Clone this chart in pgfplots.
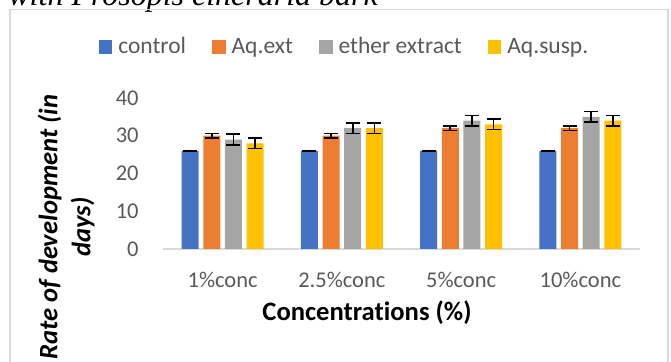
\documentclass[border=0pt]{standalone}
\usepackage{fontspec}
\setmainfont{Carlito}[Ligatures=NoCommon]
\newfontfamily\serifit{Liberation Serif}
\usepackage{pgfplots}
\usepackage{pgfplotstable}
\pgfplotsset{compat=1.18}
\definecolor{cblue}{HTML}{4472C4}
\definecolor{corange}{HTML}{ED7D31}
\definecolor{cgray}{HTML}{A5A5A5}
\definecolor{cyellow}{HTML}{FFC000}
\definecolor{tickgray}{HTML}{595959}
\definecolor{framegray}{HTML}{D9D9D9}
\pgfplotstableread{
x y e
0 26 0.03
1 26 0.03
2 26 0.03
3 26 0.03
}\tcontrol
\pgfplotstableread{
x y e
0 30 0.6
1 30 0.6
2 32 0.6
3 32 0.6
}\taqext
\pgfplotstableread{
x y e
0 29 1.4
1 32 1.4
2 34 1.4
3 35 1.4
}\tether
\pgfplotstableread{
x y e
0 28 1.4
1 32 1.4
2 33 1.4
3 34 1.4
}\taqsusp
\begin{document}
\begin{tikzpicture}
\useasboundingbox (0,0) rectangle (335.5pt,181pt);
\node[anchor=base west, inner sep=0pt, font=\serifit\itshape\fontsize{16}{19}\selectfont] at (4pt,178.25pt) {with Prosopis cineraria bark};
\draw[framegray, line width=0.75pt] (5pt,-5pt) -- (5pt,176.25pt) -- (334pt,176.25pt) -- (334pt,-5pt);
\begin{axis}[
  at={(81.5pt,56.5pt)}, anchor=south west,
  scale only axis, width=238.5pt, height=75.5pt,
  xmin=-0.5, xmax=3.5, ymin=0, ymax=40,
  ybar=2.35pt, bar width=8.5pt,
  xtick={0,1,2,3}, xticklabels={1\%conc,2.5\%conc,5\%conc,10\%conc},
  ytick={0,10,20,30,40},
  major tick length=0pt,
  axis x line*=bottom, axis y line*=left,
  x axis line style={framegray, line width=1pt},
  y axis line style={draw=none},
  /pgf/number format/assume math mode=true,
  ticklabel style={font=\fontsize{11.25}{13}\selectfont, text=tickgray, inner sep=0pt},
  xticklabel style={anchor=center, yshift=-15.5pt},
  yticklabel style={anchor=east, xshift=-12pt},
  every axis plot post/.append style={legend image code/.code={\fill[##1, draw=none] (0pt,-3.4pt) rectangle (6.8pt,3.4pt); \path (9.8pt,0pt);}},
  legend columns=4,
  legend style={draw=none, fill=none, at={(0.3784,1.3377)}, anchor=center,
    font=\fontsize{11.75}{13}\selectfont, text=tickgray, nodes={inner sep=0pt},
    /tikz/every even column/.append style={column sep=13pt}},
  legend cell align=left,
  error bars/error bar style={black, line width=0.8pt},
  error bars/error mark options={rotate=90, mark size=3.5pt, black, line width=0.8pt},
]
\addplot[fill=cblue, draw=none, error bars/.cd, y dir=both, y explicit] table[x=x, y=y, y error=e] {\tcontrol};
\addplot[fill=corange, draw=none, error bars/.cd, y dir=both, y explicit] table[x=x, y=y, y error=e] {\taqext};
\addplot[fill=cgray, draw=none, error bars/.cd, y dir=both, y explicit] table[x=x, y=y, y error=e] {\tether};
\addplot[fill=cyellow, draw=none, error bars/.cd, y dir=both, y explicit] table[x=x, y=y, y error=e] {\taqsusp};
\legend{control, Aq.ext, ether extract, Aq.susp.}
\end{axis}
\node[rotate=90, align=center, font=\bfseries\itshape\fontsize{13.3}{16.5}\selectfont] at (33pt,67.5pt) {Rate of development (in\\days)};
\node[font=\bfseries\fontsize{13.3}{16}\selectfont] at (183.5pt,24.5pt) {Concentrations (\%)};
\end{tikzpicture}
\end{document}
